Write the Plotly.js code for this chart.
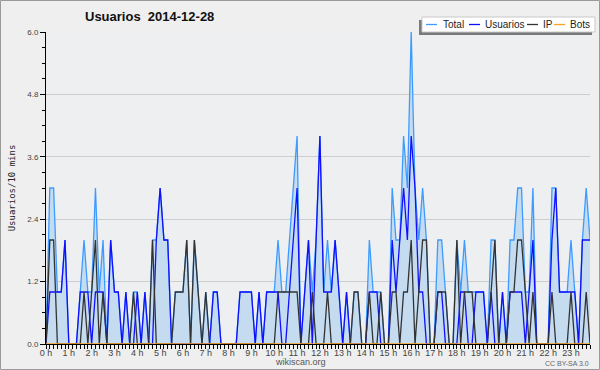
<!DOCTYPE html>
<html><head><meta charset="utf-8">
<script src="https://cdn.plot.ly/plotly-3.0.1.min.js"></script>
<style>html,body{margin:0;padding:0;background:#efefef}#c{width:600px;height:370px}</style>
</head><body><div id="c"></div>
<script>
// 10-minute slots, 6 per hour, 0 h .. 23 h
const hourLabels = ["0 h","1 h","2 h","3 h","4 h","5 h","6 h","7 h","8 h","9 h","10 h","11 h",
  "12 h","13 h","14 h","15 h","16 h","17 h","18 h","19 h","20 h","21 h","22 h","23 h"];

const total = [
  0,3,3,1,1,2, 0,0,0,1,2,1, 1,3,1,2,0,2, 1,1,0,1,0,1,
  1,0,1,0,2,2, 3,2,2,0,1,1, 1,2,0,2,1,0, 1,0,1,1,0,0,
  0,0,0,1,1,1, 1,0,1,0,1,1, 1,2,1,1,2,3, 4,0,1,2,1,2,
  4,1,2,1,2,1, 0,1,0,1,1,0, 0,2,1,1,1,0, 0,3,2,2,4,3,
  6,3,2,3,2,0, 0,2,2,1,0,0, 2,1,2,1,1,1, 1,1,0,2,2,0,
  1,0,2,2,3,3, 1,1,3,0,0,0, 0,3,3,1,1,1, 2,1,0,2,3,2];
const usuarios = [
  0,1,1,1,1,2, 0,0,0,1,1,1, 0,1,1,1,0,2, 1,1,0,1,0,0,
  1,0,1,0,0,2, 3,2,2,0,0,0, 0,0,0,0,0,0, 0,0,1,1,0,0,
  0,0,0,1,1,1, 1,0,1,0,1,1, 1,1,0,0,1,2, 3,0,1,2,0,2,
  4,1,1,1,2,1, 0,1,0,0,0,0, 0,1,1,1,0,0, 0,2,1,2,3,2,
  4,3,1,1,0,0, 0,1,1,0,0,0, 0,1,1,0,0,1, 1,1,0,1,0,0,
  1,0,1,1,1,1, 0,1,2,0,0,0, 0,2,3,1,1,1, 1,1,0,2,2,2];
const ip = [
  0,2,2,0,0,0, 0,0,0,0,1,0, 1,2,0,1,0,0, 0,0,0,0,0,1,
  0,0,0,0,2,0, 0,0,0,0,1,1, 1,2,0,2,1,0, 1,0,0,0,0,0,
  0,0,0,0,0,0, 0,0,0,0,0,0, 0,1,1,1,1,1, 1,0,0,0,1,0,
  0,0,1,0,0,0, 0,0,0,1,1,0, 0,1,0,0,1,0, 0,1,1,0,1,1,
  2,0,1,2,2,0, 0,1,1,1,0,0, 2,0,1,1,1,0, 0,0,0,1,2,0,
  0,0,1,1,2,2, 1,0,1,0,0,0, 0,1,0,0,0,0, 1,0,0,0,1,0];
const bots = [
  0,0,0,0,0,0, 0,0,0,0,0,0, 0,0,0,0,0,0, 0,0,0,0,0,0,
  0,0,0,0,0,0, 0,0,0,0,0,0, 0,0,0,0,0,0, 0,0,0,0,0,0,
  0,0,0,0,0,0, 0,0,0,0,0,0, 0,0,0,0,0,0, 0,0,0,0,0,0,
  0,0,0,0,0,0, 0,0,0,0,0,0, 0,0,0,0,0,0, 0,0,0,0,0,0,
  0,0,0,0,0,0, 0,0,0,0,0,0, 0,0,0,0,0,0, 0,0,0,0,0,0,
  0,0,0,0,0,0, 0,0,0,0,0,0, 0,0,0,0,0,0, 0,0,0,0,0,0];
const yTickVals = [0, 1.2, 2.4, 3.6, 4.8, 6.0];
const yTickText = ["0.0","1.2","2.4","3.6","4.8","6.0"];

const slots = total.map((_, i) => i);
const hourTicks = hourLabels.map((_, h) => h * 6);

const C = {total:'#3d9bff', users:'#1010ff', ip:'#333333', bots:'#ffa020'};
const lw = 1.3;
const traces = [
  {x:slots, y:total, name:'Total', mode:'lines', line:{color:C.total, width:lw},
   fill:'tozeroy', fillcolor:'#c5dcf0'},
  {x:slots, y:usuarios, name:'Usuarios', mode:'lines', line:{color:C.users, width:lw}},
  {x:slots, y:ip, name:'IP', mode:'lines', line:{color:C.ip, width:lw}},
  {x:slots, y:bots, name:'Bots', mode:'lines', line:{color:C.bots, width:lw}}
];

// pixel helpers (plot area: x 46..590, y 32..344)
const PX = px => (px - 46) / 544;
const PY = py => (344 - py) / 312;

const legendItems = [
  {name:'Total', color:C.total, lx:426, tx:441},
  {name:'Usuarios', color:C.users, lx:469, tx:483},
  {name:'IP', color:C.ip, lx:527, tx:541},
  {name:'Bots', color:C.bots, lx:554, tx:568}
];
const shapes = [
  {type:'rect', xref:'paper', yref:'paper', x0:PX(0.5), x1:PX(599.5), y0:PY(369.5), y1:PY(0.5),
   line:{color:'#9a9a9a', width:1}, fillcolor:'rgba(0,0,0,0)', layer:'above'},
  {type:'rect', xref:'paper', yref:'paper', x0:PX(419), x1:PX(592), y0:PY(35), y1:PY(20),
   line:{width:0}, fillcolor:'#7a7a7a', layer:'above'},
  {type:'rect', xref:'paper', yref:'paper', x0:PX(422), x1:PX(595), y0:PY(32), y1:PY(17),
   line:{color:'#c8c8c8', width:1}, fillcolor:'#ffffff', layer:'above'}
];
const annotations = [];
legendItems.forEach(it => {
  shapes.push({type:'line', xref:'paper', yref:'paper', x0:PX(it.lx), x1:PX(it.lx + 11),
    y0:PY(24.5), y1:PY(24.5), line:{color:it.color, width:1.3}, layer:'above'});
  annotations.push({xref:'paper', yref:'paper', x:PX(it.tx), y:PY(24.5), xanchor:'left', yanchor:'middle',
    text:it.name, showarrow:false, font:{family:'Liberation Sans, Arial, sans-serif', size:10, color:'#222'}});
});
annotations.push({xref:'paper', yref:'paper', x:PX(300), y:PY(362), xanchor:'center', yanchor:'middle',
  text:'wikiscan.org', showarrow:false, font:{family:'Liberation Sans, Arial, sans-serif', size:9, color:'#555'}});
annotations.push({xref:'paper', yref:'paper', x:PX(591), y:PY(363), xanchor:'right', yanchor:'middle',
  text:'CC BY-SA 3.0', showarrow:false, font:{family:'Liberation Sans, Arial, sans-serif', size:7, color:'#666'}});

const layout = {
  width:600, height:370, autosize:false,
  margin:{l:46, r:10, t:32, b:26, pad:0},
  paper_bgcolor:'#efefef', plot_bgcolor:'#eeeff1',
  showlegend:false,
  title:{text:'Usuarios  2014-12-28', x:85/600, xanchor:'left', xref:'container',
    y:1 - 16/370, yanchor:'middle', yref:'container',
    font:{family:'Liberation Sans, Arial, sans-serif', size:13, color:'#111', weight:'bold'}},
  xaxis:{range:[0,143], tickmode:'array', tickvals:hourTicks, ticktext:hourLabels,
    showgrid:false, zeroline:false, showline:true, linecolor:'#000', linewidth:1,
    ticks:'outside', ticklen:4, tickcolor:'#000', tickwidth:1, ticklabelstandoff:-4,
    tickfont:{family:'Liberation Sans, Arial, sans-serif', size:9, color:'#444'},
    minor:{tickmode:'linear', tick0:0, dtick:1, ticks:'outside', ticklen:4, tickcolor:'#000', showgrid:false},
    fixedrange:true},
  yaxis:{range:[0,6], tickmode:'array', tickvals:yTickVals, ticktext:yTickText,
    showgrid:true, gridcolor:'#cdcdcd', gridwidth:1, zeroline:false,
    showline:true, linecolor:'#000', linewidth:1,
    ticks:'outside', ticklen:5, tickcolor:'#000', tickwidth:1,
    tickfont:{family:'Liberation Sans, Arial, sans-serif', size:8, color:'#444'},
    minor:{tickmode:'linear', tick0:0, dtick:0.3, ticks:'outside', ticklen:3, tickcolor:'#000', showgrid:false},
    title:{text:'Usuarios/10 mins', standoff:10,
      font:{family:'DejaVu Sans Mono, monospace', size:9, color:'#222'}},
    fixedrange:true},
  shapes:shapes, annotations:annotations
};
Plotly.newPlot('c', traces, layout, {displayModeBar:false, staticPlot:true});
</script>
</body></html>
